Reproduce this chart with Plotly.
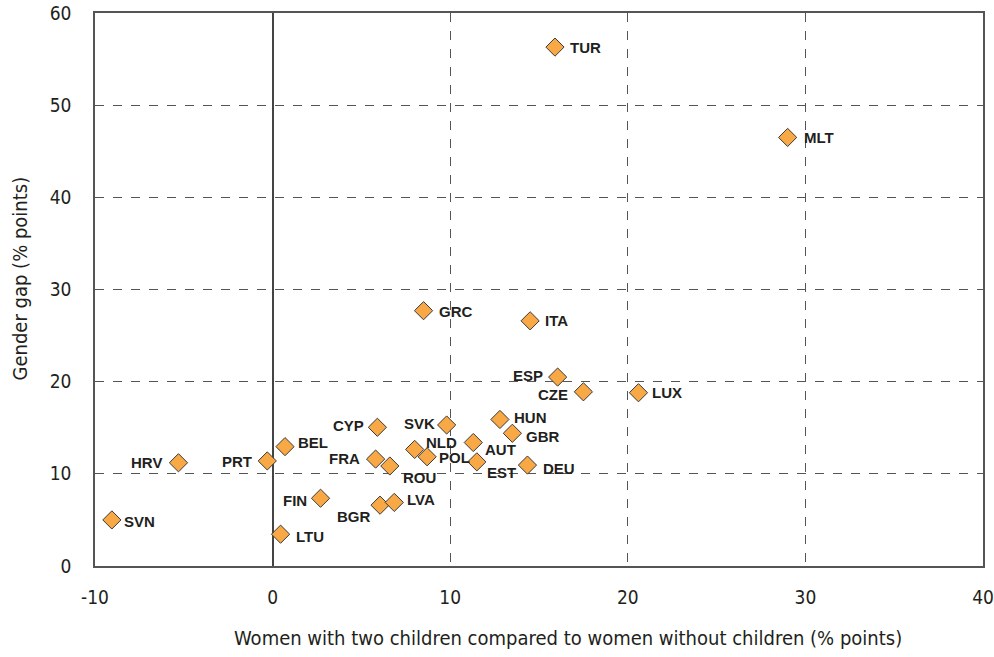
import plotly.graph_objects as go

countries = ["TUR", "MLT", "GRC", "ITA", "ESP", "CZE", "LUX", "HUN", "GBR", "SVK",
             "CYP", "AUT", "NLD", "POL", "EST", "DEU", "FRA", "ROU", "BEL", "PRT",
             "HRV", "SVN", "FIN", "LTU", "BGR", "LVA"]
women_two_children = [15.9, 29.0, 8.5, 14.5, 16.05, 17.5, 20.6, 12.8, 13.5, 9.8,
                      5.9, 11.3, 8.0, 8.7, 11.5, 14.35, 5.8, 6.6, 0.7, -0.3,
                      -5.3, -9.05, 2.7, 0.45, 6.05, 6.85]
gender_gap = [56.3, 46.5, 27.7, 26.6, 20.5, 18.9, 18.8, 15.9, 14.4, 15.3,
              15.05, 13.4, 12.65, 11.85, 11.3, 10.95, 11.6, 10.85, 12.95, 11.4,
              11.2, 5.0, 7.35, 3.45, 6.6, 6.9]

x_tick_values = [-10, 0, 10, 20, 30, 40]
x_tick_labels = ["-10", "0", "10", "20", "30", "40"]
y_tick_values = [0, 10, 20, 30, 40, 50, 60]
y_tick_labels = ["0", "10", "20", "30", "40", "50", "60"]

x_title = "Women with two children compared to women without children (% points)"
y_title = "Gender gap (% points)"

# label placement: (anchor, x offset px, y offset px)
label_style = {
    "TUR": ("left", 13, 0), "MLT": ("left", 14, 0), "GRC": ("left", 13, -1),
    "ITA": ("left", 13, 0), "ESP": ("right", -13, 2), "CZE": ("right", -13, -3),
    "LUX": ("left", 12, 0), "HUN": ("left", 12, 2), "GBR": ("left", 12, -3),
    "SVK": ("right", -10, 1), "CYP": ("right", -11, 2), "AUT": ("left", 10, -7),
    "NLD": ("left", 9, 7), "POL": ("left", 10, -1), "EST": ("left", 8, -11),
    "DEU": ("left", 14, -3), "FRA": ("right", -14, 1), "ROU": ("left", 11, -11),
    "BEL": ("left", 11, 4), "PRT": ("right", -13, -1), "HRV": ("right", -14, 0),
    "SVN": ("left", 10, -2), "FIN": ("right", -12, -2), "LTU": ("left", 13, -2),
    "BGR": ("right", -7, -11), "LVA": ("left", 11, 3),
}

axis_font = dict(family="Liberation Sans Narrow, DejaVu Sans Condensed, Arial Narrow, sans-serif",
                 size=19, color="#231f20")
title_font = dict(family="Liberation Sans Narrow, DejaVu Sans Condensed, Arial Narrow, sans-serif",
                  size=20, color="#231f20")
label_font = dict(family="Liberation Sans, Arial, sans-serif", size=15, color="#231f20", weight="bold")

fig = go.Figure(go.Scatter(
    x=women_two_children, y=gender_gap, mode="markers",
    marker=dict(symbol="diamond", size=14, color="#F9A846",
                line=dict(color="#3a3a3a", width=1)),
    cliponaxis=False, hoverinfo="skip",
))

for c, xv, yv in zip(countries, women_two_children, gender_gap):
    anchor, dx, dy = label_style[c]
    fig.add_annotation(x=xv, y=yv, text=c, showarrow=False, xanchor=anchor,
                       yanchor="middle", xshift=dx, yshift=dy, font=label_font)

# axis titles as annotations (positioned like the reference)
fig.add_annotation(xref="paper", yref="paper", x=0.533, y=-0.130, text=x_title,
                   showarrow=False, xanchor="center", yanchor="middle", font=title_font)
fig.add_annotation(xref="paper", yref="paper", x=-0.085, y=0.519, text=y_title,
                   showarrow=False, xanchor="center", yanchor="middle", textangle=-90,
                   font=title_font)

fig.update_layout(
    width=994, height=657,
    margin=dict(l=95, r=11, t=13, b=91),
    plot_bgcolor="white", paper_bgcolor="white",
    showlegend=False,
    xaxis=dict(range=[-10, 40], tickvals=x_tick_values, ticktext=x_tick_labels, automargin=False,
               showgrid=True, gridcolor="#555555", griddash="dash", gridwidth=1,
               zeroline=True, zerolinecolor="#444444", zerolinewidth=1.5,
               showline=True, mirror=True, linecolor="#555555", linewidth=1.5,
               ticks="", ticklabelstandoff=13, tickfont=axis_font),
    yaxis=dict(range=[0, 60], tickvals=y_tick_values, ticktext=y_tick_labels, automargin=False,
               showgrid=True, gridcolor="#555555", griddash="dash", gridwidth=1,
               zeroline=False,
               showline=True, mirror=True, linecolor="#555555", linewidth=1.5,
               ticks="", ticklabelstandoff=18, tickfont=axis_font),
)

fig.write_html("out.html", config={"displayModeBar": False},
               post_script="document.body.style.margin='0';")
